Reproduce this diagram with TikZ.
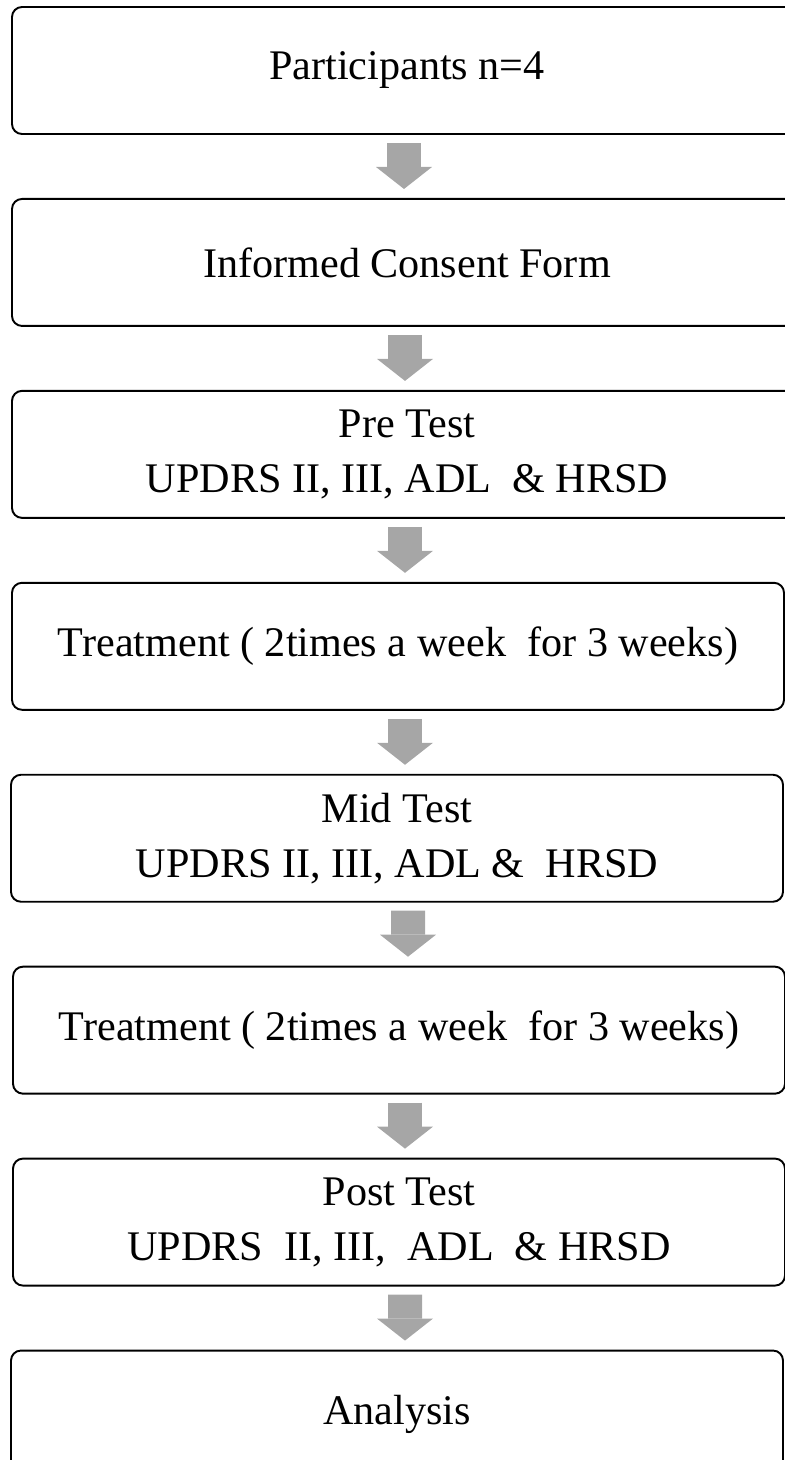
\documentclass[tikz,border=0pt]{standalone}
\usepackage{fontspec}
\setmainfont{Liberation Serif}
\usetikzlibrary{arrows.meta, positioning}
\definecolor{arrowgray}{RGB}{166,166,166}

\begin{document}
\begin{tikzpicture}[
        node distance = 1.26cm,
        box/.style = {draw, rectangle, rounded corners=0.2cm, minimum width=15.44cm, minimum height=2.54cm, align=center, inner sep=0pt, line width=1.1pt, font=\fontsize{24}{31.3}\selectfont},
        widebox/.style = {box, minimum width=15.8cm},
        blockarrow/.style = {draw=arrowgray, line width=0.68cm, -{Triangle[length=0.44cm, width=1.12cm, line width=0pt]}}
    ]
        \useasboundingbox (0,0) rectangle (15.7,-29.2);

        % === Steps ===
        \node (participants) [widebox] at (8.14,-1.41) {Participants n=4};

        \node (consent) [widebox, below=of participants] {Informed Consent Form};

        \node (pretest) [widebox, below=of consent] {Pre Test\\UPDRS II, III, ADL \ \& HRSD};

        \node (treatA) [box, below=of pretest, xshift=-0.18cm] {Treatment ( 2times a week \ for 3 weeks)};

        \node (midtest) [box, below=of treatA, xshift=-0.02cm] {Mid Test\\UPDRS II, III, ADL \& \ HRSD};

        \node (treatB) [box, below=of midtest, xshift=0.04cm] {Treatment ( 2times a week \ for 3 weeks)};

        \node (posttest) [box, below=of treatB] {Post Test\\UPDRS \ II, III, \ ADL \ \& HRSD};

        \node (analysis) [box, below=of posttest, xshift=-0.04cm] {Analysis};

        % === Arrows ===
        \draw [blockarrow] ([xshift=-0.06cm, yshift=-0.16cm]participants.south) -- ([xshift=-0.06cm, yshift=0.18cm]consent.north);
        \draw [blockarrow] ([xshift=-0.04cm, yshift=-0.16cm]consent.south) -- ([xshift=-0.04cm, yshift=0.18cm]pretest.north);
        \draw [blockarrow] ([xshift=-0.04cm, yshift=-0.16cm]pretest.south) -- ([xshift=0.14cm, yshift=0.18cm]treatA.north);
        \draw [blockarrow] ([xshift=0.14cm, yshift=-0.16cm]treatA.south) -- ([xshift=0.16cm, yshift=0.18cm]midtest.north);
        \draw [blockarrow] ([xshift=0.22cm, yshift=-0.16cm]midtest.south) -- ([xshift=0.18cm, yshift=0.18cm]treatB.north);
        \draw [blockarrow] ([xshift=0.12cm, yshift=-0.16cm]treatB.south) -- ([xshift=0.12cm, yshift=0.18cm]posttest.north);
        \draw [blockarrow] ([xshift=0.12cm, yshift=-0.16cm]posttest.south) -- ([xshift=0.16cm, yshift=0.18cm]analysis.north);

    \end{tikzpicture}
\end{document}
